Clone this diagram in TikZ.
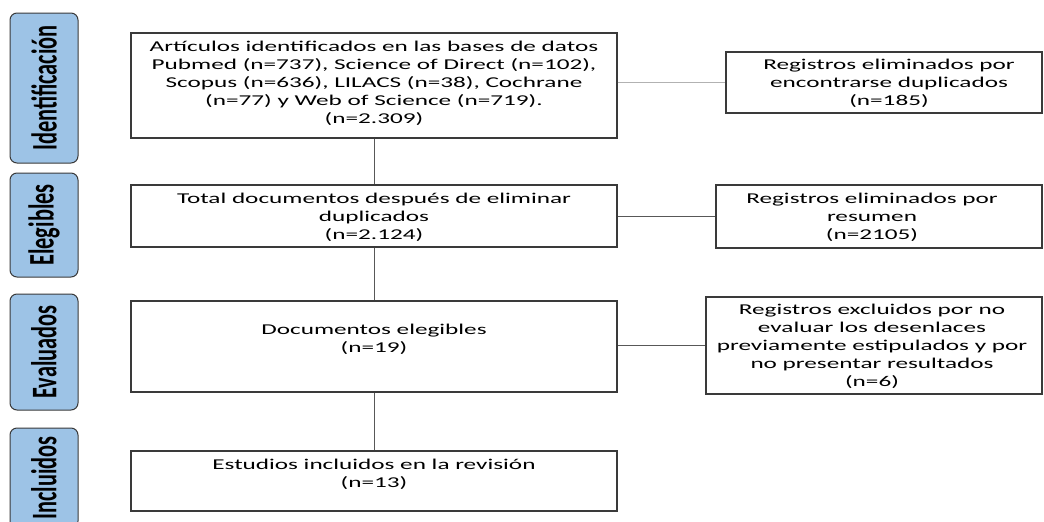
\documentclass[tikz,border=0pt]{standalone}
\usepackage{fontspec}
\newfontfamily\boxfont[FakeStretch=1.68]{Carlito}
\newfontfamily\labfont[FakeStretch=0.62]{Carlito}
\definecolor{labfill}{HTML}{9DC3E6}
\definecolor{edge}{HTML}{3A3A3A}
\begin{document}
\begin{tikzpicture}[x=1pt,y=-1pt,
  box/.style={draw=edge,line width=1.1pt,inner sep=0pt,minimum width=#1},
  txt/.style={inner sep=0pt,align=center,text=black,font=\boxfont\fontsize{15}{18}\selectfont},
  lab/.style={draw=edge,line width=1pt,fill=labfill,rounded corners=7pt,rotate=90,inner sep=0pt,
    minimum height=68pt,font=\labfont\bfseries\fontsize{36}{40}\selectfont},
  conn/.style={draw=edge!85,line width=0.9pt},
  connlight/.style={draw=black!30,line width=0.9pt}]
\useasboundingbox (0,0) rectangle (1044,522);
% phase labels
\node[lab,minimum width=150pt] (l1) at (44,88) {Identificación};
\node[lab,minimum width=104pt] (l2) at (44,225) {Elegibles};
\node[lab,minimum width=116pt] (l3) at (44,352) {Evaluados};
\node[lab,minimum width=100pt] (l4) at (44,478) {Incluidos};
% main boxes
\node[box=486pt,minimum height=105pt] (b1) at (374,85.5) {};
\node[box=486pt,minimum height=62pt] (b2) at (374,216) {};
\node[box=486pt,minimum height=91pt] (b3) at (374,346.5) {};
\node[box=486pt,minimum height=60pt] (b4) at (374,481) {};
% side boxes
\node[box=316pt,minimum height=61pt] (r1) at (884,82.5) {};
\node[box=326pt,minimum height=63pt] (r2) at (879,216.5) {};
\node[box=336pt,minimum height=97pt] (r3) at (874,345.5) {};
% texts
\node[txt] (t1) at (374,83) {Artículos identificados en las bases de datos\\Pubmed (n=737), Science of Direct (n=102),\\Scopus (n=636), LILACS (n=38), Cochrane\\(n=77) y Web of Science (n=719).\\(n=2.309)};
\node[txt] (t2) at (374,217) {Total documentos después de eliminar\\duplicados\\(n=2.124)};
\node[txt] (t3) at (374,339) {Documentos elegibles\\(n=19)};
\node[txt] (t4) at (374,474) {Estudios incluidos en la revisión\\(n=13)};
\node[txt] (s1) at (889,83.5) {Registros eliminados por\\encontrarse duplicados\\(n=185)};
\node[txt] (s2) at (872,217) {Registros eliminados por\\resumen\\(n=2105)};
\node[txt] (s3) at (872,346) {Registros excluidos por no\\evaluar los desenlaces\\previamente estipulados y por\\no presentar resultados\\(n=6)};
% connectors
\draw[conn] (b1.south) -- (b2.north);
\draw[conn] (b2.south) -- (b3.north);
\draw[conn] (b3.south) -- (b4.north);
\draw[connlight] (b1.east |- r1.west) -- (r1.west);
\draw[conn] (b2.east |- r2.west) -- (r2.west);
\draw[conn] (b3.east |- r3.west) -- (r3.west);
\end{tikzpicture}
\end{document}
